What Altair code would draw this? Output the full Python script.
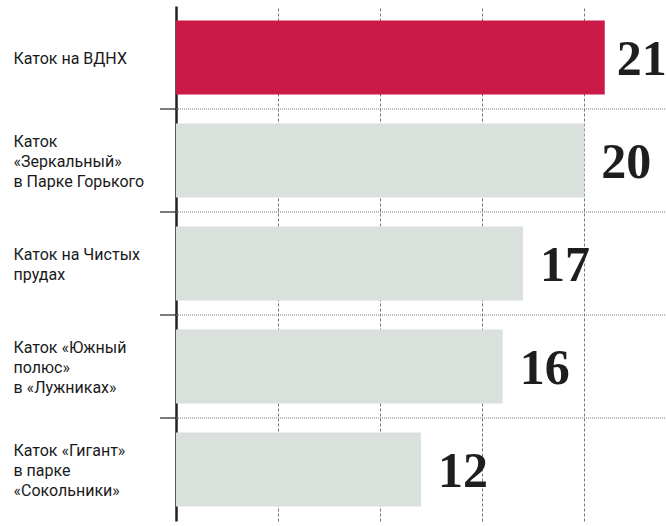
import altair as alt
import pandas as pd

categories = [
    "Каток на ВДНХ",
    "Каток\n«Зеркальный»\nв Парке Горького",
    "Каток на Чистых\nпрудах",
    "Каток «Южный\nполюс»\nв «Лужниках»",
    "Каток «Гигант»\nв парке\n«Сокольники»",
]
values = [21, 20, 17, 16, 12]
highlight = [True, False, False, False, False]
grid_ticks = [5, 10, 15, 20]
x_max = 24

df = pd.DataFrame({"cat": categories, "value": values, "hl": highlight})
sep = pd.DataFrame({"cat": categories[1:]})

yscale = alt.Scale(domain=categories, paddingInner=0, paddingOuter=0)
xscale = alt.Scale(domain=[0, x_max], nice=False, zero=True)

W, H = 490, 515
LH = 20

label_offset = {
    "condition": [
        {"test": "length(split(datum.value, '\\n')) == 3", "value": -LH + 1},
        {"test": "length(split(datum.value, '\\n')) == 2", "value": -LH / 2 + 1},
    ],
    "value": 1,
}

bars = alt.Chart(df).mark_bar(height=alt.RelativeBandSize(0.72)).encode(
    y=alt.Y("cat:N", scale=yscale, sort=None, title=None,
            axis=alt.Axis(
                labelExpr="split(datum.label, '\\n')",
                labelAlign="left", labelBaseline="middle",
                labelPadding=163, labelFont="Roboto",
                labelFontSize=16, labelLineHeight=LH, labelColor="#1a1a1a",
                labelOffset=label_offset,
                ticks=False, domainColor="#222", domainWidth=2.5,
                grid=False,
            )),
    x=alt.X("value:Q", scale=xscale, title=None,
            axis=alt.Axis(values=grid_ticks, labels=False, ticks=False, domain=False,
                          grid=True, gridColor="#777", gridDash=[3, 2], gridWidth=1)),
    color=alt.Color("hl:N", scale=alt.Scale(domain=[True, False], range=["#CC1A48", "#DAE0DC"]), legend=None),
)

def value_labels(dx, test):
    return alt.Chart(df).transform_filter(test).mark_text(
        align="left", baseline="middle", dx=dx, dy=2,
        font="Liberation Serif", fontWeight="bold", fontSize=50, color="#1e1e1e",
    ).encode(
        y=alt.Y("cat:N", scale=yscale, sort=None),
        x=alt.X("value:Q", scale=xscale),
        text=alt.Text("value:Q"),
    )

labels_main = value_labels(17, "!datum.hl")
labels_top = value_labels(12, "datum.hl")

seps = alt.Chart(sep).mark_rule(color="#777", strokeDash=[1, 1], strokeWidth=1).encode(
    y=alt.Y("cat:N", scale=yscale, sort=None, bandPosition=0),
    x=alt.datum(0, scale=xscale),
    x2=alt.datum(x_max),
)

sep_ticks = alt.Chart(sep).mark_rule(color="#222", strokeWidth=1.2).encode(
    y=alt.Y("cat:N", scale=yscale, sort=None, bandPosition=0),
    x=alt.value(-16),
    x2=alt.value(0),
)

chart = alt.layer(seps, bars, sep_ticks, labels_main, labels_top).properties(
    width=W, height=H,
    autosize=alt.AutoSizeParams(type="none"),
    padding={"left": 176, "top": 6, "right": 0, "bottom": 5},
    background="white",
).configure_view(stroke=None)

chart.save("out.html", embed_options={"renderer": "svg", "actions": False})
